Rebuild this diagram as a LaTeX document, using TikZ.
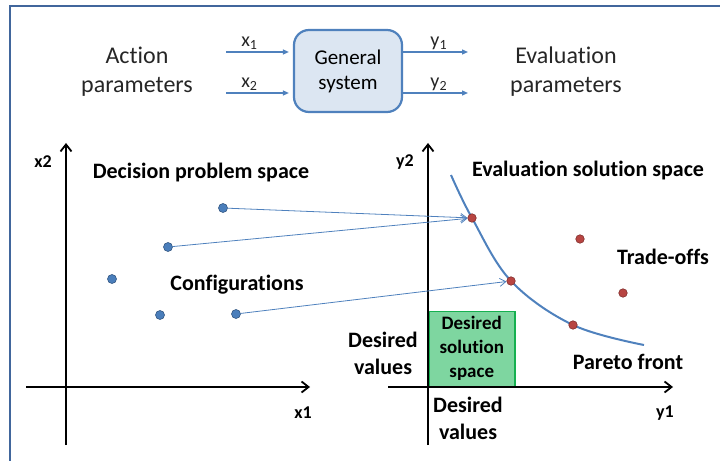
\documentclass[tikz,border=0pt]{standalone}
\usepackage{fontspec}
\setmainfont[Ligatures=NoCommon]{Carlito}
\usetikzlibrary{arrows.meta}
\definecolor{frameblue}{HTML}{41669C}
\definecolor{boxblue}{HTML}{DCE6F2}
\definecolor{lineblue}{HTML}{4F81BD}
\definecolor{dotblue}{HTML}{4A7EBB}
\definecolor{dotred}{HTML}{B84542}
\definecolor{okgreen}{HTML}{7ED6A0}
\definecolor{okline}{HTML}{16B050}
\tikzset{
  lbl/.style={font=\fontsize{24}{29}\selectfont,align=center,text=black!85,inner sep=0pt},
  blbl/.style={font=\fontsize{22}{27}\selectfont\bfseries,align=center,inner sep=0pt},
  axlbl/.style={font=\fontsize{18}{20}\selectfont\bfseries,inner sep=0pt},
  sysbox/.style={draw=lineblue,line width=2.2pt,fill=boxblue,rounded corners=15pt,
    minimum width=108pt,minimum height=82pt,font=\fontsize{21}{25}\selectfont,align=center},
  io/.style={draw=lineblue,line width=1.3pt,-{Triangle[length=6pt,width=5pt]}},
  idx/.style={font=\fontsize{20}{22}\selectfont,text=black!85,inner sep=2pt},
  axline/.style={line width=1.8pt,-{Straight Barb[length=7pt,width=11pt]}},
  conf/.style={circle,draw=dotblue!70!black,fill=dotblue,line width=0.6pt,inner sep=0pt,minimum size=9pt},
  sol/.style={circle,draw=dotred!70!black,fill=dotred,line width=0.6pt,inner sep=0pt,minimum size=8.5pt},
  mapto/.style={draw=lineblue,line width=0.8pt,-{Straight Barb[length=6pt,width=8pt]}}
}
\begin{document}
\begin{tikzpicture}[x=1pt,y=1pt]
    \useasboundingbox(0,0)rectangle(720,461);
    \draw[frameblue,line width=2.6pt](720,455)--(10,455)--(10,0);

    \node[lbl] (act) at (137,389) {Action\\parameters};
    \node[sysbox] (sys) at (348,390) {General\\system};
    \node[lbl] (eva) at (566,389) {Evaluation\\parameters};
    \coordinate (x1in) at (226,409);
    \coordinate (x2in) at (226,368);
    \coordinate (y1out) at (468,409);
    \coordinate (y2out) at (468,368);
    \draw[io,shorten >=4pt](x1in)--node[idx,pos=0.35,above]{x\textsubscript{1}}(x1in-|sys.west);
    \draw[io,shorten >=4pt](x2in)--node[idx,pos=0.35,above]{x\textsubscript{2}}(x2in-|sys.west);
    \draw[io](sys.east|-y1out)--node[idx,pos=0.55,above]{y\textsubscript{1}}(y1out);
    \draw[io](sys.east|-y2out)--node[idx,pos=0.55,above]{y\textsubscript{2}}(y2out);

    \begin{scope}[shift={(66,74)}]
      \draw[axline](0,-58)--(0,244);
      \draw[axline](-40,0)--(244,0);
      \node[axlbl] (lx2) at (-23,225) {x2};
      \node[axlbl] (lx1) at (237,-26) {x1};
      \node[blbl] (dps) at (135,214) {Decision problem space};
      \node[blbl] (cfg) at (171,102) {Configurations};
      \node[conf] (d1) at (157,179) {};
      \node[conf] (d2) at (102,140) {};
      \node[conf] (d3) at (46,108) {};
      \node[conf] (d4) at (94,72) {};
      \node[conf] (d5) at (170,73) {};
    \end{scope}

    \begin{scope}[shift={(428,74)}]
      \node[draw=okline,line width=1.5pt,fill=okgreen,minimum width=86pt,minimum height=75pt,
            anchor=south west,inner sep=0pt,font=\fontsize{19}{24}\selectfont\bfseries,align=center]
            (dss) at (0,0) {Desired\\solution\\space};
      \draw[axline](0,-58)--(0,244);
      \draw[axline](-40,0)--(245,0);
      \node[axlbl] (ly2) at (-23,225) {y2};
      \node[axlbl] (ly1) at (237,-26) {y1};
      \node[blbl] (dvl) at (-45,34) {Desired\\values};
      \node[blbl] (dvb) at (40,-31) {Desired\\values};
      \node[blbl] (ess) at (160,216) {Evaluation solution space};
      \node[blbl] (tro) at (235,130) {Trade-offs};
      \node[blbl] (pfr) at (200,25) {Pareto front};
      \draw[lineblue,line width=2pt]plot[smooth,tension=0.6]coordinates{(23,212)(44,169)(83,106)(145,62)(216,42)};
      \node[sol] (r1) at (44,169) {};
      \node[sol] (r2) at (152,148) {};
      \node[sol] (r3) at (83,106) {};
      \node[sol] (r4) at (195,94) {};
      \node[sol] (r5) at (145,62) {};
    \end{scope}

    \draw[mapto](d1)--(r1);
    \draw[mapto](d2)--(r1);
    \draw[mapto](d5)--(r3);
  \end{tikzpicture}
\end{document}
